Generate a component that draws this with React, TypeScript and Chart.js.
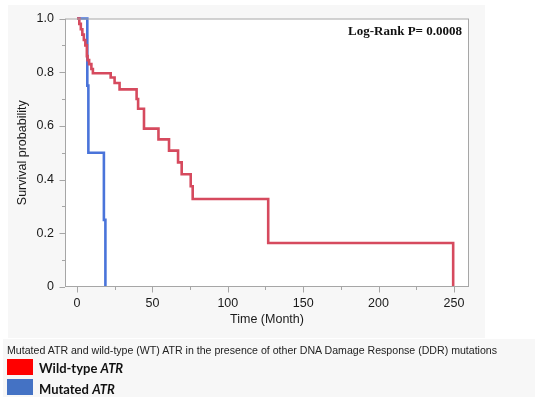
import React, { useEffect, useRef } from "react";
import { Chart, registerables } from "chart.js";

Chart.register(...registerables);

// Kaplan-Meier steps (time in months, survival probability after the event)
const wtTime = [0, 1.5, 2.5, 3.5, 4.5, 5.5, 6.5, 7, 8, 9.5, 10.5, 22.3, 24.9, 28.2, 39.5, 40.5, 44.4, 54, 61, 67, 69.4, 75.4, 76.7, 126.8, 249.5];
const wtSurv = [1, 0.98, 0.96, 0.94, 0.92, 0.9, 0.86, 0.845, 0.83, 0.812, 0.796, 0.78, 0.76, 0.736, 0.7, 0.664, 0.59, 0.55, 0.508, 0.464, 0.42, 0.375, 0.328, 0.164, 0];
const mutTime = [0, 6.8, 7.5, 17.8, 18.8];
const mutSurv = [1, 0.75, 0.5, 0.25, 0];

const xTicks = [0, 50, 100, 150, 200, 250];
const xMinorTicks = [25, 75, 125, 175, 225];
const yTicks = [0, 0.2, 0.4, 0.6, 0.8, 1.0];
const yMinorTicks = [0.1, 0.3, 0.5, 0.7, 0.9];

const seriesNames = ["Wild-type", "Mutated"];
const caption = "Mutated ATR and wild-type (WT) ATR in the presence of other DNA Damage Response (DDR) mutations";
const pValueText = "Log-Rank P= 0.0008";

const FONT = "'Liberation Sans', Arial, Helvetica, sans-serif";

const framePlugin = {
  id: "frame",
  beforeDatasetsDraw(chart: any) {
    const { ctx, chartArea: a } = chart;
    ctx.save();
    ctx.fillStyle = "#ffffff";
    ctx.fillRect(a.left, a.top, a.right - a.left, a.bottom - a.top);
    ctx.restore();
  },
  afterDraw(chart: any) {
    const { ctx, chartArea: a, scales } = chart;
    ctx.save();
    ctx.strokeStyle = "#a6a6a6";
    ctx.lineWidth = 1;
    ctx.strokeRect(a.left + 0.5, a.top + 0.5, a.right - a.left - 1, a.bottom - a.top - 1);
    ctx.beginPath();
    const x = scales.x;
    const y = scales.y;
    xTicks.forEach((v) => {
      const px = Math.round(x.getPixelForValue(v)) + 0.5;
      ctx.moveTo(px, a.bottom);
      ctx.lineTo(px, a.bottom + 5.5);
    });
    xMinorTicks.forEach((v) => {
      const px = Math.round(x.getPixelForValue(v)) + 0.5;
      ctx.moveTo(px, a.bottom);
      ctx.lineTo(px, a.bottom + 3);
    });
    yTicks.forEach((v) => {
      const py = Math.round(y.getPixelForValue(v)) + 0.5;
      ctx.moveTo(a.left, py);
      ctx.lineTo(a.left - 5.5, py);
    });
    yMinorTicks.forEach((v) => {
      const py = Math.round(y.getPixelForValue(v)) + 0.5;
      ctx.moveTo(a.left, py);
      ctx.lineTo(a.left - 3, py);
    });
    ctx.stroke();
    ctx.fillStyle = "#111111";
    ctx.font = "bold 13px 'Liberation Serif', 'Times New Roman', serif";
    ctx.textAlign = "right";
    ctx.textBaseline = "middle";
    ctx.fillText(pValueText, a.right - 7, a.top + 13.5);
    ctx.restore();
  },
};

export default function App() {
  const canvasRef = useRef<HTMLCanvasElement | null>(null);

  useEffect(() => {
    if (!canvasRef.current) return;
    const chart = new Chart(canvasRef.current, {
      type: "line",
      data: {
        datasets: [
          {
            label: seriesNames[0],
            data: wtTime.map((t, i) => ({ x: t, y: wtSurv[i] })),
            borderColor: "#d64a5e",
            borderWidth: 2.6,
            pointRadius: 0,
            stepped: "before",
            fill: false,
            clip: 4,
          },
          {
            label: seriesNames[1],
            data: mutTime.map((t, i) => ({ x: t, y: mutSurv[i] })),
            borderColor: "#4a74da",
            borderWidth: 2.6,
            pointRadius: 0,
            stepped: "before",
            fill: false,
            clip: 4,
          },
        ],
      },
      options: {
        animation: false,
        responsive: false,
        devicePixelRatio: 1,
        layout: { padding: { left: 8, top: 15, right: 81, bottom: 79 } },
        plugins: { legend: { display: false }, tooltip: { enabled: false } },
        scales: {
          x: {
            type: "linear",
            min: -8,
            max: 260,
            afterBuildTicks: (s: any) => {
              s.ticks = xTicks.map((v) => ({ value: v }));
            },
            afterFit: (s: any) => {
              s.height = 40;
            },
            grid: { display: false, drawTicks: false },
            border: { display: false },
            ticks: { padding: 9, color: "#1a1a1a", font: { size: 12.5, family: FONT } },
            title: {
              display: true,
              text: "Time (Month)",
              color: "#1a1a1a",
              font: { size: 12.5, family: FONT },
              padding: { top: 0, bottom: 0 },
            },
          },
          y: {
            type: "linear",
            min: 0,
            max: 1,
            afterBuildTicks: (s: any) => {
              s.ticks = yTicks.map((v) => ({ value: v }));
            },
            afterFit: (s: any) => {
              s.width = 57;
            },
            grid: { display: false, drawTicks: false },
            border: { display: false },
            ticks: {
              padding: 11,
              color: "#1a1a1a",
              font: { size: 12.5, family: FONT },
              callback: (v: any) => (Number(v) === 0 ? "0" : Number(v).toFixed(1)),
            },
            title: {
              display: true,
              text: "Survival probability",
              color: "#1a1a1a",
              font: { size: 12.5, family: FONT },
              padding: { top: 7, bottom: 0 },
            },
          },
        },
      },
      plugins: [framePlugin],
    });
    return () => chart.destroy();
  }, []);

  const labelStyle: React.CSSProperties = {
    position: "absolute",
    left: 39,
    fontFamily: "Lato, 'Liberation Sans', sans-serif",
    fontWeight: 700,
    fontSize: 13,
    color: "#111",
    lineHeight: "16px",
    whiteSpace: "nowrap",
  };

  return (
    <div style={{ position: "fixed", left: 0, top: 0, width: 550, height: 406, background: "#ffffff", overflow: "hidden" }}>
      <div style={{ position: "absolute", left: 8, top: 5, width: 477, height: 333, background: "#f7f7f7" }} />
      <div style={{ position: "absolute", left: 3, top: 339, width: 532, height: 58, background: "#f7f7f7" }} />
      <canvas ref={canvasRef} width={550} height={406} style={{ position: "absolute", left: 0, top: 0, width: 550, height: 406 }} />
      <div style={{ position: "absolute", left: 7, top: 344, fontFamily: FONT, fontSize: 10.6, color: "#222", lineHeight: "13px", whiteSpace: "nowrap" }}>
        {caption}
      </div>
      <div style={{ position: "absolute", left: 7, top: 359, width: 26, height: 16, background: "#ff0000" }} />
      <div style={{ position: "absolute", left: 7, top: 379, width: 26, height: 16, background: "#4472c4" }} />
      <div style={{ ...labelStyle, top: 360 }}>
        {seriesNames[0]} <i>ATR</i>
      </div>
      <div style={{ ...labelStyle, top: 381 }}>
        {seriesNames[1]} <i>ATR</i>
      </div>
    </div>
  );
}
